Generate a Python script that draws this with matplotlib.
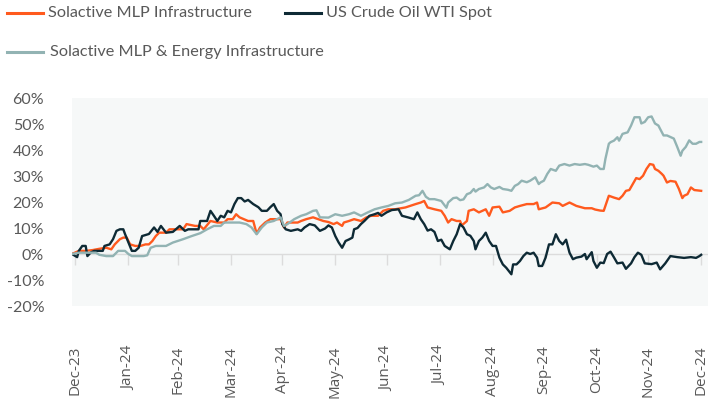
import pandas as pd
import matplotlib
matplotlib.use("Agg")
import matplotlib.pyplot as plt
from matplotlib.lines import Line2D

## days counted from 2023-12-31, values are cumulative % change
start_date = "2023-12-31"

mlp_days = [
	-2, 2, 6, 10, 14, 18, 21, 23, 26, 28,
	30, 32, 35, 38, 41, 43, 45, 47, 49, 53,
	55, 63, 65, 70, 73, 75, 79, 83, 87, 89,
	92, 94, 96, 101, 104, 106, 108, 111, 114, 120,
	122, 124, 130, 132, 135, 139, 145, 148, 151, 153,
	156, 157, 160, 163, 167, 170, 173, 177, 180, 183,
	187, 193, 199, 202, 204, 206, 210, 214, 216, 218,
	220, 223, 225, 226, 229, 230, 233, 236, 238, 240,
	242, 244, 248, 250, 254, 257, 260, 264, 268, 270,
	271, 275, 279, 283, 285, 289, 293, 298, 302, 304,
	307, 309, 311, 312, 315, 318, 320, 322, 324, 326,
	328, 330, 332, 334, 336, 338, 339, 341, 343, 344,
	346, 348, 351, 353, 355, 356, 358, 360, 362, 366]
mlp_vals = [
	0, 1.2, 1.2, 1.5, 2.0, 2.4, 1.8, 3.7, 5.7, 6.3,
	6.3, 3.7, 3.1, 3.1, 3.7, 3.7, 5.0, 6.9, 8.2, 8.2,
	9.5, 9.5, 11.5, 10.8, 10.8, 9.5, 12.7, 12.1, 12.1, 13.4,
	13.4, 15.3, 14.1, 12.7, 12.7, 7.8, 10.2, 12.1, 13.4, 13.4,
	10.2, 12.1, 12.1, 12.7, 13.4, 14.1, 12.7, 12.3, 11.5, 12.1,
	10.8, 12.1, 12.7, 13.4, 12.7, 14.0, 14.7, 14.7, 16.6, 17.2,
	17.2, 17.9, 19.2, 19.8, 20.4, 17.9, 17.2, 16.6, 14.7, 12.1,
	13.4, 12.7, 12.7, 11.0, 12.7, 16.6, 17.2, 16.0, 16.6, 17.2,
	14.7, 17.9, 18.2, 16.0, 16.6, 17.9, 18.5, 19.2, 19.2, 19.8,
	17.2, 17.9, 19.8, 19.5, 18.5, 19.8, 18.5, 17.6, 17.6, 17.1,
	16.7, 16.6, 20.5, 22.4, 21.7, 21.1, 22.4, 24.3, 24.6, 26.9,
	29.2, 28.8, 30.1, 32.7, 34.6, 34.3, 32.7, 32.0, 30.8, 30.1,
	27.5, 28.1, 27.8, 25.0, 21.5, 22.4, 23.0, 25.6, 24.6, 24.3]

crude_days = [
	-2, 1, 2, 4, 6, 7, 9, 11, 16, 17,
	20, 22, 24, 26, 28, 29, 31, 33, 35, 37,
	39, 43, 46, 48, 50, 53, 57, 61, 64, 66,
	72, 73, 77, 79, 81, 83, 85, 87, 89, 91,
	93, 95, 97, 99, 101, 104, 107, 109, 112, 114,
	116, 118, 120, 121, 123, 126, 130, 132, 134, 137,
	140, 143, 146, 148, 150, 152, 154, 156, 158, 160,
	162, 163, 165, 167, 169, 172, 175, 177, 179, 182,
	185, 189, 191, 195, 198, 200, 202, 204, 206, 208,
	210, 212, 214, 216, 219, 221, 223, 225, 227, 229,
	231, 233, 234, 236, 238, 240, 242, 244, 246, 248,
	250, 252, 255, 256, 258, 260, 262, 264, 266, 268,
	270, 271, 273, 275, 277, 279, 281, 283, 285, 287,
	289, 291, 293, 296, 298, 299, 302, 303, 305, 307,
	309, 311, 313, 315, 317, 320, 322, 325, 327, 329,
	331, 333, 337, 340, 342, 345, 348, 352, 356, 360,
	363, 365, 366]
crude_vals = [
	0, -1.2, 1.2, 3.1, 3.1, -0.8, 0.6, 1.2, 1.2, 3.1,
	3.7, 5.7, 8.9, 9.5, 9.5, 7.7, 4.4, 1.2, 1.2, 2.4,
	6.9, 7.7, 10.2, 8.5, 10.8, 8.2, 8.5, 10.8, 8.9, 9.5,
	9.5, 12.7, 12.7, 16.6, 14.7, 12.7, 14.7, 14.1, 16.6, 16.0,
	19.2, 21.5, 21.5, 20.2, 20.8, 19.2, 18.0, 16.6, 16.6, 18.0,
	19.2, 16.6, 15.3, 11.5, 9.5, 8.9, 9.5, 8.9, 10.2, 11.5,
	11.0, 8.9, 9.8, 11.0, 10.2, 6.9, 4.4, 2.4, 5.0, 5.6,
	6.3, 9.5, 10.0, 11.5, 12.7, 14.7, 15.3, 15.8, 14.7, 16.0,
	16.9, 17.2, 14.7, 14.0, 13.4, 16.0, 13.4, 11.5, 9.0, 9.5,
	8.5, 5.0, 5.5, 3.1, 1.8, 5.0, 7.6, 11.5, 10.2, 7.6,
	7.0, 5.0, 1.8, 5.0, 6.3, 8.2, 5.0, 3.1, 3.1, -1.4,
	-4.0, -5.3, -7.8, -4.0, -4.0, -2.7, -0.8, 0.5, 0, 0.5,
	-1.4, -4.6, -4.6, -1.4, 3.7, 3.7, 7.6, 5.0, 3.7, 5.5,
	0.5, -2.0, -1.4, -1.0, 0.0, -2.0, 0.7, -2.7, -5.3, -3.3,
	-3.5, 0, 0.9, -1.3, -3.6, -3.3, -5.7, -3.6, -1.2, 0.5,
	-0.3, -3.6, -3.9, -3.3, -5.9, -3.6, -0.8, -1.2, -1.5, -1.2,
	-1.5, -0.8, -0.3]

energy_days = [
	-2, 2, 12, 14, 18, 22, 25, 29, 31, 33,
	40, 42, 44, 47, 53, 57, 63, 68, 73, 77,
	81, 85, 87, 96, 100, 103, 106, 109, 112, 116,
	120, 122, 124, 128, 132, 135, 139, 141, 143, 148,
	152, 156, 160, 163, 167, 171, 175, 179, 183, 187,
	191, 195, 199, 201, 203, 205, 207, 210, 214, 217,
	218, 221, 223, 225, 227, 229, 231, 233, 234, 236,
	239, 241, 243, 245, 248, 250, 253, 255, 257, 259,
	261, 264, 266, 269, 271, 272, 274, 276, 278, 281,
	283, 286, 289, 292, 295, 298, 300, 303, 305, 307,
	309, 310, 312, 313, 315, 317, 318, 320, 323, 325,
	327, 330, 331, 333, 335, 337, 339, 341, 342, 344,
	346, 348, 350, 352, 354, 355, 357, 359, 361, 363,
	365, 366]
energy_vals = [
	0, 0.5, 0.5, -0.3, -0.8, -0.8, 1.2, 1.2, 0, -0.8,
	-0.8, -0.5, 2.4, 3.1, 3.1, 4.4, 5.7, 6.9, 8.0, 9.5,
	10.8, 10.8, 12.1, 12.1, 11.5, 10.2, 7.6, 10.2, 12.1, 12.7,
	14.1, 10.8, 11.5, 13.4, 14.7, 15.3, 16.6, 16.8, 14.1, 14.0,
	15.3, 14.7, 15.3, 16.0, 14.7, 16.0, 17.2, 17.9, 18.5, 19.5,
	19.8, 20.8, 22.4, 22.6, 24.3, 22.0, 21.1, 21.1, 20.4, 17.8,
	19.8, 21.5, 21.7, 20.7, 21.0, 23.0, 23.5, 25.0, 24.0, 25.0,
	25.6, 26.9, 25.6, 25.0, 25.8, 25.0, 24.7, 24.3, 26.2, 26.9,
	28.2, 27.6, 28.2, 29.5, 26.9, 27.5, 28.2, 30.8, 32.7, 32.0,
	34.0, 34.6, 34.0, 34.6, 34.3, 34.6, 34.3, 33.6, 34.0, 32.7,
	32.7, 36.6, 42.4, 43.0, 43.6, 44.9, 43.6, 46.2, 46.8, 49.4,
	52.6, 52.6, 50.2, 50.8, 52.6, 52.9, 50.2, 49.4, 48.1, 45.6,
	45.6, 45.0, 44.4, 41.2, 37.8, 39.7, 41.2, 43.7, 42.4, 42.4,
	43.1, 43.1]

series_names = [
	"Solactive MLP Infrastructure",
	"US Crude Oil WTI Spot",
	"Solactive MLP & Energy Infrastructure",
	]
series_colors = ["#ff5a1e", "#0e2a35", "#92b3b3"]
month_labels = [
	"Dec-23", "Jan-24", "Feb-24", "Mar-24", "Apr-24", "May-24", "Jun-24",
	"Jul-24", "Aug-24", "Sep-24", "Oct-24", "Nov-24", "Dec-24"]
y_ticks = [-20, -10, 0, 10, 20, 30, 40, 50, 60]


def to_dates(days):
	return pd.Timestamp(start_date) + pd.to_timedelta(days, unit="D")


if __name__ == "__main__":

	plt.rcParams["font.family"] = ["Lato", "DejaVu Sans"]
	text_color = "#595959"
	W, H = 708, 403
	fig = plt.figure(
		figsize=(W / 100, H / 100),
		dpi=100)
	ax = fig.add_axes([
		72 / W,
		1 - 306 / H,
		(708 - 72) / W,
		(306 - 98) / H,
		])
	ax.set_facecolor("#f6f8f8")

	## zero line with month ticks (set before labels, it resets ticks)
	for side in ["top", "right", "left"]:
		ax.spines[side].set_visible(False)
	ax.spines["bottom"].set_position(("data", 0))
	ax.spines["bottom"].set_color("#dcdcdc")
	ax.spines["bottom"].set_linewidth(1)
	ax.spines["bottom"].set_zorder(1)

	## lines
	all_days = [mlp_days, crude_days, energy_days]
	all_vals = [mlp_vals, crude_vals, energy_vals]
	for days, vals, color, name in zip(all_days, all_vals, series_colors, series_names):
		ax.plot(
			to_dates(days),
			vals,
			color=color,
			linewidth=1.7,
			solid_joinstyle="round",
			label=name,
			)

	## axes
	ax.set_xlim(
		to_dates([-2])[0],
		to_dates([370])[0])
	ax.set_ylim(-20, 60)
	month_ends = pd.date_range(
		start_date,
		periods=len(month_labels),
		freq="ME")
	ax.set_xticks(month_ends)
	ax.set_xticklabels(
		month_labels,
		rotation=90,
		fontsize=11,
		color=text_color,
		family=["Open Sans", "DejaVu Sans"])
	ax.set_yticks(y_ticks)
	ax.set_yticklabels(
		["{}%".format(v) for v in y_ticks],
		fontsize=11.5,
		color=text_color)
	ax.tick_params(
		axis="x",
		direction="out",
		length=8,
		width=1,
		color="#dcdcdc",
		pad=58)
	ax.tick_params(
		axis="y",
		length=0,
		pad=20)

	## legend drawn by hand: two rows
	legend_pos = [(7, 13, 48), (285, 13, 326), (7, 52, 50)]
	for (x0, y0, xt), color, name in zip(legend_pos, series_colors, series_names):
		fig.add_artist(Line2D(
			[x0 / W, (x0 + 36) / W],
			[1 - y0 / H, 1 - y0 / H],
			color=color,
			linewidth=2.2,
			transform=fig.transFigure))
		fig.text(
			xt / W,
			1 - y0 / H,
			name,
			fontsize=11.7,
			color=text_color,
			va="center",
			ha="left")

	fig.savefig("out.png", dpi=100)
	plt.close()
